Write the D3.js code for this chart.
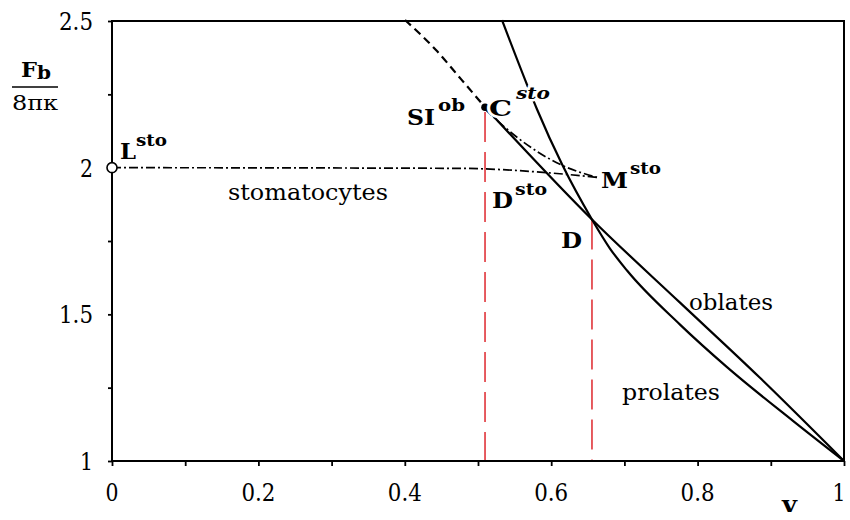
<!DOCTYPE html>
<html><head><meta charset="utf-8">
<script src="https://cdn.jsdelivr.net/npm/d3@7/dist/d3.min.js"></script>
<style>body{margin:0;background:#fff}svg{display:block}svg text{font-family:"DejaVu Serif",serif}</style>
</head><body>
<svg id="c" width="850" height="520"></svg>
<script>
// ---- data (v = reduced volume, F = Fb/(8πκ)) ----
const xTicks = [0,0.1,0.2,0.3,0.4,0.5,0.6,0.7,0.8,0.9,1];
const xLabels = [0,0.2,0.4,0.6,0.8,1];
const yTicks = [1,1.25,1.5,1.75,2,2.25,2.5];
const yLabels = [1,1.5,2,2.5];

// prolate branch (steep curve from top through C^sto and D, then lower curve to v=1)
const prolateV = [0.5328,0.5656,0.5806,0.6148,0.6557,0.6803,0.7036,0.7760,0.8402,0.9303,1.0];
const prolateF = [2.503,2.2916,2.1993,2.0113,1.8234,1.7244,1.6492,1.465,1.32,1.1367,1.0];
// oblate branch (solid, from SI^ob through D to v=1)
const oblateV = [0.5096,0.6557,0.7760,0.8852,1.0];
const oblateF = [2.2061,1.8234,1.5398,1.2836,1.0];
// metastable oblate branch (dashed, above SI^ob)
const oblateMetaV = [0.4003,0.4426,0.4768,0.5096];
const oblateMetaF = [2.5034,2.4009,2.3018,2.2061];
// stomatocyte branch lower (L^sto -> M^sto) and upper (C^sto -> M^sto), dash-dot
const stoLowV = [0,0.4754,0.5888,0.6626];
const stoLowF = [2.0,1.9977,1.984,1.9669];
const stoUpV = [0.5096,0.5533,0.612,0.6626];
const stoUpF = [2.1993,2.1036,2.0113,1.9669];
// transition verticals
const transV = [0.5096,0.6557];
const transF = [2.19,1.8234];

const svg = d3.select("#c");
const x = d3.scaleLinear().domain([0,1]).range([112,844]);
const y = d3.scaleLinear().domain([1,2.5]).range([461,21]);

const pts = (V,F)=>V.map((v,i)=>[v,F[i]]);
const line = d3.line().x(d=>x(d[0])).y(d=>y(d[1])).curve(d3.curveMonotoneX);

// red transition lines
transV.forEach((v,i)=>{
  svg.append("line").attr("x1",x(v)).attr("x2",x(v)).attr("y1",y(transF[i])).attr("y2",y(1))
    .attr("stroke","#e0343a").attr("stroke-width",1.6).attr("stroke-dasharray","30,10");
});

// axes
const gx = svg.append("g").attr("transform",`translate(0,${y(1)})`)
  .call(d3.axisBottom(x).tickValues(xTicks).tickSize(5).tickFormat(""));
const gy = svg.append("g").attr("transform",`translate(${x(0)},0)`)
  .call(d3.axisLeft(y).tickValues(yTicks).tickSize(4).tickFormat(""));
[gx,gy].forEach(g=>{g.select(".domain").remove();g.selectAll("line").attr("stroke","#000").attr("stroke-width",1.8);});

// frame
svg.append("rect").attr("x",x(0)).attr("y",y(2.5)).attr("width",x(1)-x(0)).attr("height",y(1)-y(2.5))
  .attr("fill","none").attr("stroke","#000").attr("stroke-width",2);

// tick labels
const tw = d => String(d).length===1 ? 13 : 34;
svg.selectAll(".xl").data(xLabels).join("text").attr("x",d=>Math.min(x(d),839)).attr("y",y(1)+40)
  .attr("text-anchor","middle").attr("font-size",24).attr("textLength",tw)
  .attr("lengthAdjust","spacingAndGlyphs").text(d=>d);
svg.selectAll(".yl").data(yLabels).join("text").attr("x",x(0)-19).attr("y",d=>y(d)+9)
  .attr("text-anchor","end").attr("font-size",24).attr("textLength",tw)
  .attr("lengthAdjust","spacingAndGlyphs").text(d=>d);

// curves
svg.append("path").attr("d",line(pts(oblateMetaV,oblateMetaF))).attr("fill","none")
  .attr("stroke","#000").attr("stroke-width",2.2).attr("stroke-dasharray","8,5");
svg.append("path").attr("d",line(pts(oblateV,oblateF))).attr("fill","none")
  .attr("stroke","#000").attr("stroke-width",2.2);
svg.append("path").attr("d",line(pts(prolateV,prolateF))).attr("fill","none")
  .attr("stroke","#000").attr("stroke-width",2.2);
svg.append("path").attr("d",line(pts(stoLowV,stoLowF))).attr("fill","none")
  .attr("stroke","#000").attr("stroke-width",1.7).attr("stroke-dasharray","9,3,2,3");
svg.append("path").attr("d",line(pts(stoUpV,stoUpF))).attr("fill","none")
  .attr("stroke","#000").attr("stroke-width",1.7).attr("stroke-dasharray","9,3,2,3");

// points
svg.append("circle").attr("cx",x(stoLowV[0])).attr("cy",y(stoLowF[0])).attr("r",5)
  .attr("fill","#fff").attr("stroke","#000").attr("stroke-width",1.6);
svg.append("circle").attr("cx",x(oblateV[0])).attr("cy",y(oblateF[0])).attr("r",3.8).attr("fill","#000");

// labels
function lab(px,py,txt,size,opts={}){
  const t = svg.append("text").attr("x",px).attr("y",py)
    .attr("font-size",size).attr("font-weight",opts.bold?"bold":"normal")
    .attr("font-style",opts.italic?"italic":"normal").text(txt);
  if(opts.len) t.attr("textLength",opts.len).attr("lengthAdjust","spacingAndGlyphs");
  if(opts.halo) t.attr("stroke","#fff").attr("stroke-width",5).attr("paint-order","stroke");
  return t;
}
lab(407,125,"SI",22,{bold:true,len:28});
lab(438,111,"ob",17,{bold:true,len:27});
lab(489,116,"C",22,{bold:true,len:23,halo:true});
lab(516,99,"sto",17,{bold:true,italic:true,len:34,halo:true});
lab(120,159,"L",22,{bold:true,len:16});
lab(136,146,"sto",17,{bold:true,len:31});
lab(601,188,"M",22,{bold:true,len:27});
lab(630,174,"sto",17,{bold:true,len:31});
lab(492,208,"D",22,{bold:true,len:21});
lab(515,195,"sto",17,{bold:true,len:32});
lab(561,248,"D",22,{bold:true,len:21});
lab(228,200,"stomatocytes",22,{len:160});
lab(689,310,"oblates",22,{len:84});
lab(622,400,"prolates",22,{len:98});
lab(782,512,"v",22,{bold:true,len:15});

// y-axis title: Fb / 8πκ
lab(21,77,"F",21,{bold:true,len:16});
lab(37,79,"b",19,{bold:true,len:14});
svg.append("line").attr("x1",12).attr("x2",58).attr("y1",87).attr("y2",87).attr("stroke","#000").attr("stroke-width",1.4);
lab(12,110,"8πκ",21,{len:46});
</script>
</body></html>
